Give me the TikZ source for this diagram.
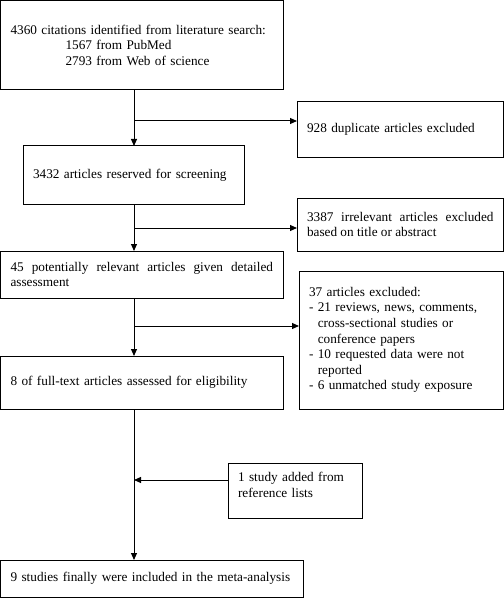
\documentclass[tikz,border=0pt]{standalone}
\usepackage{fontspec}
\setmainfont{Liberation Serif}
\usetikzlibrary{arrows.meta}
\newcommand\boxfont{\fontsize{13.25bp}{15.6bp}\selectfont}
\tikzset{
  box/.style={draw, line width=1bp, inner xsep=10bp, inner ysep=0pt, outer sep=0pt,
    align=left, font=\boxfont, anchor=north west},
  jbox/.style={box, align=justify},
  arr/.style={line width=1bp, -{Triangle[length=7bp,width=6bp]}},
  ln/.style={line width=1bp}
}
\begin{document}
\begin{tikzpicture}[x=1bp,y=-1bp]
\useasboundingbox (0,0) rectangle (504,598);
\node[box, minimum width=282.5bp, minimum height=89.5bp, text width=262.5bp] (b1) at (0.5,0.5)
  {4360 citations identified from literature search:\\
   \hspace*{55bp}1567 from PubMed\\
   \hspace*{55bp}2793 from Web of science};
\node[box, minimum width=206.5bp, minimum height=55bp, text width=186.5bp] (b2) at (297,102)
  {928 duplicate articles excluded};
\node[box, minimum width=221.5bp, minimum height=58bp, text width=201.5bp] (b3) at (23,146)
  {3432 articles reserved for screening};
\node[jbox, minimum width=206.5bp, minimum height=53bp, text width=186.5bp] (b4) at (297,198)
  {3387 irrelevant articles excluded\linebreak based on title or abstract};
\node[jbox, minimum width=282.5bp, minimum height=47bp, text width=262.5bp] (b5) at (0.5,251)
  {45 potentially relevant articles given detailed\linebreak assessment};
\node[box, minimum width=204.5bp, minimum height=138bp, text width=184.5bp] (b6) at (299,271)
  {37 articles excluded:\\
   - 21 reviews, news, comments,\\
   \hphantom{-} cross-sectional studies or\\
   \hphantom{-} conference papers\\
   - 10 requested data were not\\
   \hphantom{-} reported\\
   - 6 unmatched study exposure};
\node[box, minimum width=282.5bp, minimum height=53bp, text width=262.5bp] (b7) at (0.5,356)
  {8 of full-text articles assessed for eligibility};
\node[box, minimum width=134bp, minimum height=55bp, text width=114bp] (b8) at (228,463)
  {1 study added from\\ reference lists\\[-4bp]\mbox{}};
\node[box, minimum width=302.5bp, minimum height=37.5bp, text width=282.5bp] (b9) at (0.5,560)
  {9 studies finally were included in the meta-analysis};
\coordinate (vx) at (134,0);
\coordinate (j1) at (134,121);
\coordinate (j2) at (134,228);
\coordinate (j3) at (134,326);
\coordinate (j4) at (134,480);
\draw[arr] (b1.south -| vx) -- (b3.north -| vx);
\draw[arr] (j1) -- (j1 -| b2.west);
\draw[arr] (b3.south -| vx) -- (b5.north -| vx);
\draw[arr] (j2) -- (j2 -| b4.west);
\draw[arr] (b5.south -| vx) -- (b7.north -| vx);
\draw[arr] (j3) -- (j3 -| b6.west);
\draw[arr] (b7.south -| vx) -- (b9.north -| vx);
\draw[arr] (j4 -| b8.west) -- (j4);
\end{tikzpicture}
\end{document}
